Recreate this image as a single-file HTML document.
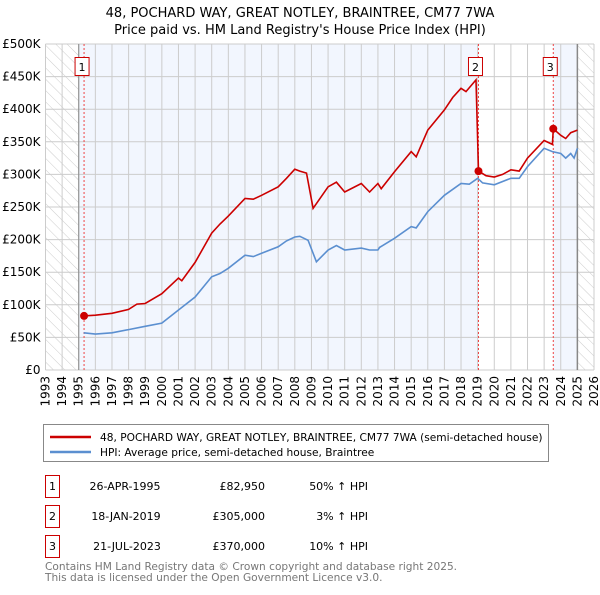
<!DOCTYPE html>
<html><head><meta charset="utf-8"><style>
body{margin:0;background:#fff;font-family:"Liberation Sans","DejaVu Sans",sans-serif;}
svg text{font-family:"DejaVu Sans","Liberation Sans",sans-serif;}
</style></head><body>
<svg id="chart" width="600" height="590" viewBox="0 0 600 590">
<defs>
<pattern id="hatch" width="8" height="8" patternUnits="userSpaceOnUse" patternTransform="rotate(-45)">
<rect width="8" height="8" fill="#fff"/><line x1="0" y1="0" x2="0" y2="8" stroke="#ccc" stroke-width="1"/>
</pattern>
</defs>
<text x="300" y="17" text-anchor="middle" font-size="13" fill="#000">48, POCHARD WAY, GREAT NOTLEY, BRAINTREE, CM77 7WA</text>
<text x="300" y="34" text-anchor="middle" font-size="13" fill="#000">Price paid vs. HM Land Registry's House Price Index (HPI)</text>
<g id="plot"></g>
<g>
<rect x="43.5" y="424.5" width="505" height="37" fill="#fff" stroke="#888"/>
<line x1="50" y1="437" x2="91" y2="437" stroke="#cc0000" stroke-width="2.5"/>
<text x="100" y="441" font-size="10.6">48, POCHARD WAY, GREAT NOTLEY, BRAINTREE, CM77 7WA (semi-detached house)</text>
<line x1="50" y1="452" x2="91" y2="452" stroke="#5b8fd0" stroke-width="2.5"/>
<text x="100" y="456" font-size="10.6">HPI: Average price, semi-detached house, Braintree</text>
</g>
<g font-size="11">
<rect x="45.5" y="475.5" width="14" height="22" fill="#fff" stroke="#cc0000"/><text x="52.5" y="490" text-anchor="middle">1</text>
<text x="125" y="490" text-anchor="middle">26-APR-1995</text><text x="265" y="490" text-anchor="end">£82,950</text><text x="368" y="490" text-anchor="end">50% ↑ HPI</text>
<rect x="45.5" y="505.5" width="14" height="22" fill="#fff" stroke="#cc0000"/><text x="52.5" y="520" text-anchor="middle">2</text>
<text x="126" y="520" text-anchor="middle">18-JAN-2019</text><text x="265" y="520" text-anchor="end">£305,000</text><text x="368" y="520" text-anchor="end">3% ↑ HPI</text>
<rect x="45.5" y="535.5" width="14" height="22" fill="#fff" stroke="#cc0000"/><text x="52.5" y="550" text-anchor="middle">3</text>
<text x="127" y="550" text-anchor="middle">21-JUL-2023</text><text x="265" y="550" text-anchor="end">£370,000</text><text x="368" y="550" text-anchor="end">10% ↑ HPI</text>
</g>
<text x="45" y="570" font-size="10.6" fill="#777">Contains HM Land Registry data © Crown copyright and database right 2025.</text>
<text x="45" y="581" font-size="10.6" fill="#777">This data is licensed under the Open Government Licence v3.0.</text>
</svg>
<script>
const hpiYears=[1995.3,1996,1997,1998,1999,2000,2001,2002,2003,2003.5,2004,2005,2005.5,2006,2007,2007.5,2008,2008.3,2008.8,2009.3,2010,2010.5,2011,2012,2012.5,2013,2013.1,2014,2015,2015.3,2016,2017,2018,2018.5,2019,2019.3,2020,2021,2021.5,2022,2023,2023.5,2024,2024.3,2024.6,2024.8,2025];
const hpiValues=[57,55,57,62,67,72,92,112,143,148,156,176,174,179,189,198,204,205,199,166,184,191,184,187,184,184,188,202,220,218,243,268,286,285,294,287,284,294,294,312,340,335,332,325,332,325,340];
const redYears=[1995.3,1996,1997,1998,1998.5,1999,2000,2001,2001.2,2002,2003,2003.5,2004,2005,2005.5,2006,2007,2007.5,2008,2008.3,2008.7,2009.1,2010,2010.5,2011,2012,2012.5,2013,2013.2,2014,2015,2015.3,2016,2017,2017.5,2018,2018.3,2018.9,2019.05,2019.5,2020,2020.5,2021,2021.5,2022,2023,2023.5,2023.55,2024,2024.3,2024.6,2025];
const redValues=[83,84,87,93,101,102,117,141,137,165,210,224,236,263,262,268,281,294,308,305,302,248,281,288,273,286,273,286,278,304,335,327,368,399,418,432,427,445,305,298,296,300,307,305,325,352,346,370,360,355,364,368];
const saleYears=[1995.32,2019.05,2023.55];
const saleValues=[82.95,305,370];
const saleLabels=["1","2","3"];
const yTicks=[0,50,100,150,200,250,300,350,400,450,500];
const xTickYears=[1993,1994,1995,1996,1997,1998,1999,2000,2001,2002,2003,2004,2005,2006,2007,2008,2009,2010,2011,2012,2013,2014,2015,2016,2017,2018,2019,2020,2021,2022,2023,2024,2025,2026];
const X0=45.5,X1=594,Y0=370,Y1=44;
const xs=y=>X0+(y-1993)*(X1-X0)/33;
const ys=v=>Y0-v*(Y0-Y1)/500;
const NS="http://www.w3.org/2000/svg";
const g=document.getElementById('plot');
function mk(t,a){const e=document.createElementNS(NS,t);for(const k in a)e.setAttribute(k,a[k]);g.appendChild(e);return e;}
let e;
e=mk('rect',{x:xs(1993),y:Y1,width:xs(1995)-xs(1993),height:Y0-Y1,fill:'url(#hatch)'});


e=mk('rect',{x:xs(2025),y:Y1,width:xs(2026)-xs(2025),height:Y0-Y1,fill:'url(#hatch)'});


e=mk('rect',{x:xs(1995),y:Y1,width:xs(saleYears[1])-xs(1995),height:Y0-Y1,fill:'#f2f6fe'});


e=mk('rect',{x:xs(saleYears[2]),y:Y1,width:xs(2025)-xs(saleYears[2]),height:Y0-Y1,fill:'#f2f6fe'});


xTickYears.forEach(yr=>{
 e=mk('line',{x1:xs(yr),x2:xs(yr),y1:Y1,y2:Y0,stroke:'#ccc','stroke-width':1});
 
 
 e=mk('text',{x:0,y:0,'font-size':12,'text-anchor':'end',transform:`translate(${xs(yr)+4},${Y0+6}) rotate(-90)`});
 e.textContent=yr;
 
 
});
yTicks.forEach(v=>{
 e=mk('line',{x1:X0,x2:X1,y1:ys(v),y2:ys(v),stroke:'#ccc','stroke-width':1});
 
 
 e=mk('text',{x:X0-5,y:ys(v)+4,'font-size':12,'text-anchor':'end'});
 e.textContent=v===0?'£0':'£'+v+'K';
 
 
});
e=mk('line',{x1:xs(1995),x2:xs(1995),y1:Y1,y2:Y0,stroke:'#888','stroke-width':1});


e=mk('line',{x1:xs(2025),x2:xs(2025),y1:Y1,y2:Y0,stroke:'#888','stroke-width':1.5});


saleYears.forEach((yr,i)=>{
 e=mk('line',{x1:xs(yr),x2:xs(yr),y1:Y1,y2:Y0,stroke:'#ee4444','stroke-width':1,'stroke-dasharray':'2,2'});
 
 
});
e=mk('path',{d:hpiYears.map((y,i)=>(i?'L':'M')+xs(y).toFixed(1)+','+ys(hpiValues[i]).toFixed(1)).join(''),fill:'none',stroke:'#5b8fd0','stroke-width':1.6});


e=mk('path',{d:redYears.map((y,i)=>(i?'L':'M')+xs(y).toFixed(1)+','+ys(redValues[i]).toFixed(1)).join(''),fill:'none',stroke:'#cc0000','stroke-width':1.6});


saleYears.forEach((yr,i)=>{
 e=mk('circle',{cx:xs(yr),cy:ys(saleValues[i]),r:4,fill:'#cc0000'});
 
 
 const bx=xs(yr)-(i==0?2:3)-7;
 e=mk('rect',{x:bx,y:57.5,width:14,height:18,fill:'#fff',stroke:'#cc0000'});
 
 
 e=mk('text',{x:bx+7,y:71,'font-size':11,'text-anchor':'middle'});
 e.textContent=saleLabels[i];
 
 
});
</script>
</body></html>
